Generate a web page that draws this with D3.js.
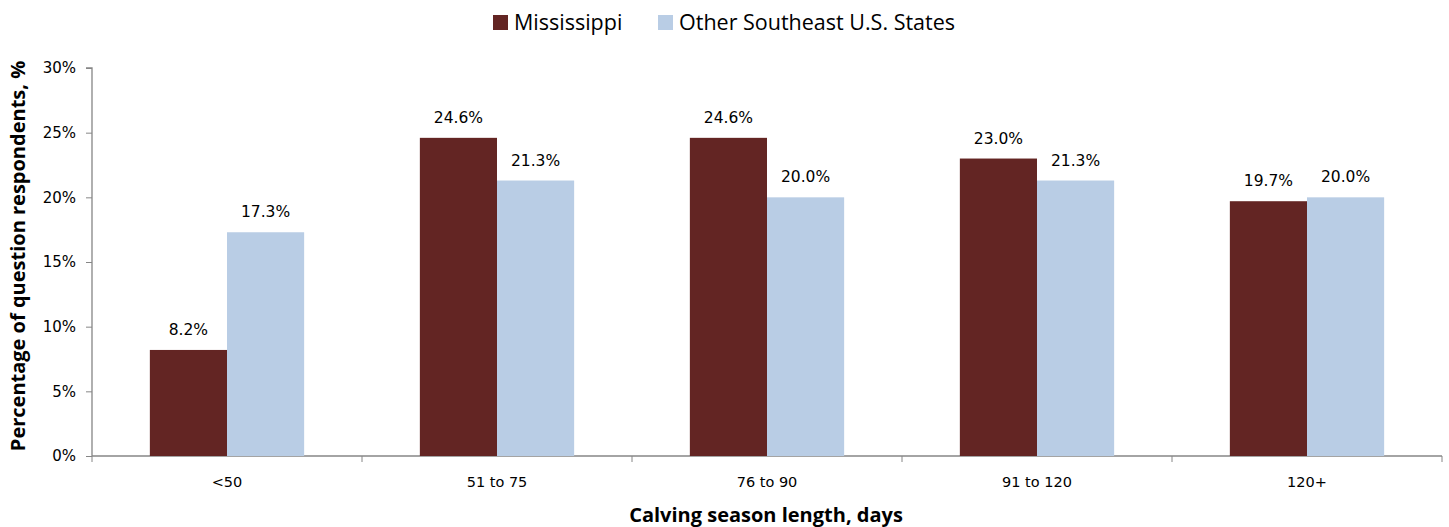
<!DOCTYPE html>
<html>
<head>
<meta charset="utf-8">
<script src="https://cdn.jsdelivr.net/npm/d3@7"></script>
<style>
  body { margin: 0; background: #fff; }
  svg text { fill: #000; }
</style>
</head>
<body>
<div id="chart"></div>
<script>
const categories = ["<50", "51 to 75", "76 to 90", "91 to 120", "120+"];
const seriesNames = ["Mississippi", "Other Southeast U.S. States"];
const mississippi = [8.2, 24.6, 24.6, 23.0, 19.7];
const otherStates = [17.3, 21.3, 20.0, 21.3, 20.0];
const yTicks = [0, 5, 10, 15, 20, 25, 30];
const colors = ["#632523", "#b9cde5"];

const W = 1449, H = 527;
const MARGIN = { TOP: 68, BOTTOM: 71, LEFT: 92, RIGHT: 7 };
const WIDTH = W - MARGIN.LEFT - MARGIN.RIGHT;
const HEIGHT = H - MARGIN.TOP - MARGIN.BOTTOM;

const svg = d3.select("#chart").append("svg")
  .attr("width", W).attr("height", H);
const g = svg.append("g")
  .attr("transform", `translate(${MARGIN.LEFT}, ${MARGIN.TOP})`);

const y = d3.scaleLinear().domain([0, 30]).range([HEIGHT, 0]);
const x = d3.scaleBand().domain(categories).range([0, WIDTH]).paddingInner(0).paddingOuter(0);
const x1 = d3.scaleBand().domain(seriesNames).range([0, x.bandwidth()]).paddingInner(0).paddingOuter(0.75);

const tickFont = "'DejaVu Sans', Verdana, sans-serif";
const titleFont = "'Open Sans', sans-serif";

// y axis
const yAxis = g.append("g").call(d3.axisLeft(y).tickValues(yTicks).tickFormat(d => d + "%").tickSize(6).tickPadding(10));
yAxis.selectAll("text").style("font-family", tickFont).style("font-size", "15px").attr("fill", "#000");

// x axis
const xAxis = g.append("g").attr("transform", `translate(0, ${HEIGHT})`)
  .call(d3.axisBottom(x).tickSize(0).tickPadding(21));
xAxis.selectAll("text").style("font-family", tickFont).style("font-size", "14.5px").attr("fill", "#000");
// category boundary ticks
g.append("g").selectAll("line")
  .data(d3.range(categories.length + 1))
  .enter().append("line")
  .attr("x1", i => i * x.step()).attr("x2", i => i * x.step())
  .attr("y1", HEIGHT).attr("y2", HEIGHT + 6)
  .attr("stroke", "#868686");

[yAxis, xAxis].forEach(a => {
  a.select(".domain").attr("stroke", "#868686").attr("stroke-width", 1.3);
  a.selectAll(".tick line").attr("stroke", "#868686");
});
xAxis.select(".domain").attr("d", `M0,0H${WIDTH}`);
yAxis.select(".domain").attr("d", `M-6,0H0V${HEIGHT}`);

// bars
const rows = categories.map((c, i) => ({ cat: c, vals: [mississippi[i], otherStates[i]] }));
const groups = g.selectAll(".grp").data(rows).enter().append("g")
  .attr("transform", d => `translate(${x(d.cat)}, 0)`);
groups.selectAll("rect")
  .data(d => d.vals.map((v, k) => ({ k, v })))
  .enter().append("rect")
  .attr("x", d => x1(seriesNames[d.k]))
  .attr("y", d => y(d.v))
  .attr("width", x1.bandwidth())
  .attr("height", d => HEIGHT - y(d.v))
  .attr("fill", d => colors[d.k]);
groups.selectAll("text.lbl")
  .data(d => d.vals.map((v, k) => ({ k, v })))
  .enter().append("text")
  .attr("class", "lbl")
  .attr("x", d => x1(seriesNames[d.k]) + x1.bandwidth() / 2)
  .attr("y", d => y(d.v) - 15)
  .attr("text-anchor", "middle")
  .style("font-family", tickFont)
  .style("font-size", "15.5px")
  .text(d => d.v.toFixed(1) + "%");

// axis titles
svg.append("text")
  .attr("x", 766)
  .attr("y", H - 5)
  .attr("text-anchor", "middle")
  .style("font-family", titleFont)
  .style("font-weight", "bold")
  .style("font-size", "20px")
  .text("Calving season length, days");

svg.append("text")
  .attr("transform", `translate(25, ${256}) rotate(-90)`)
  .attr("text-anchor", "middle")
  .style("font-family", titleFont)
  .style("font-weight", "bold")
  .style("font-size", "20px")
  .text("Percentage of question respondents, %");

// legend
const legendX = [493, 658];
const legend = svg.append("g");
seriesNames.forEach((name, k) => {
  legend.append("rect").attr("x", legendX[k]).attr("y", 15).attr("width", 15).attr("height", 15).attr("fill", colors[k]);
  legend.append("text").attr("x", legendX[k] + 21).attr("y", 30)
    .style("font-family", titleFont).style("font-size", "21.5px")
    .text(name);
});
</script>
</body>
</html>
